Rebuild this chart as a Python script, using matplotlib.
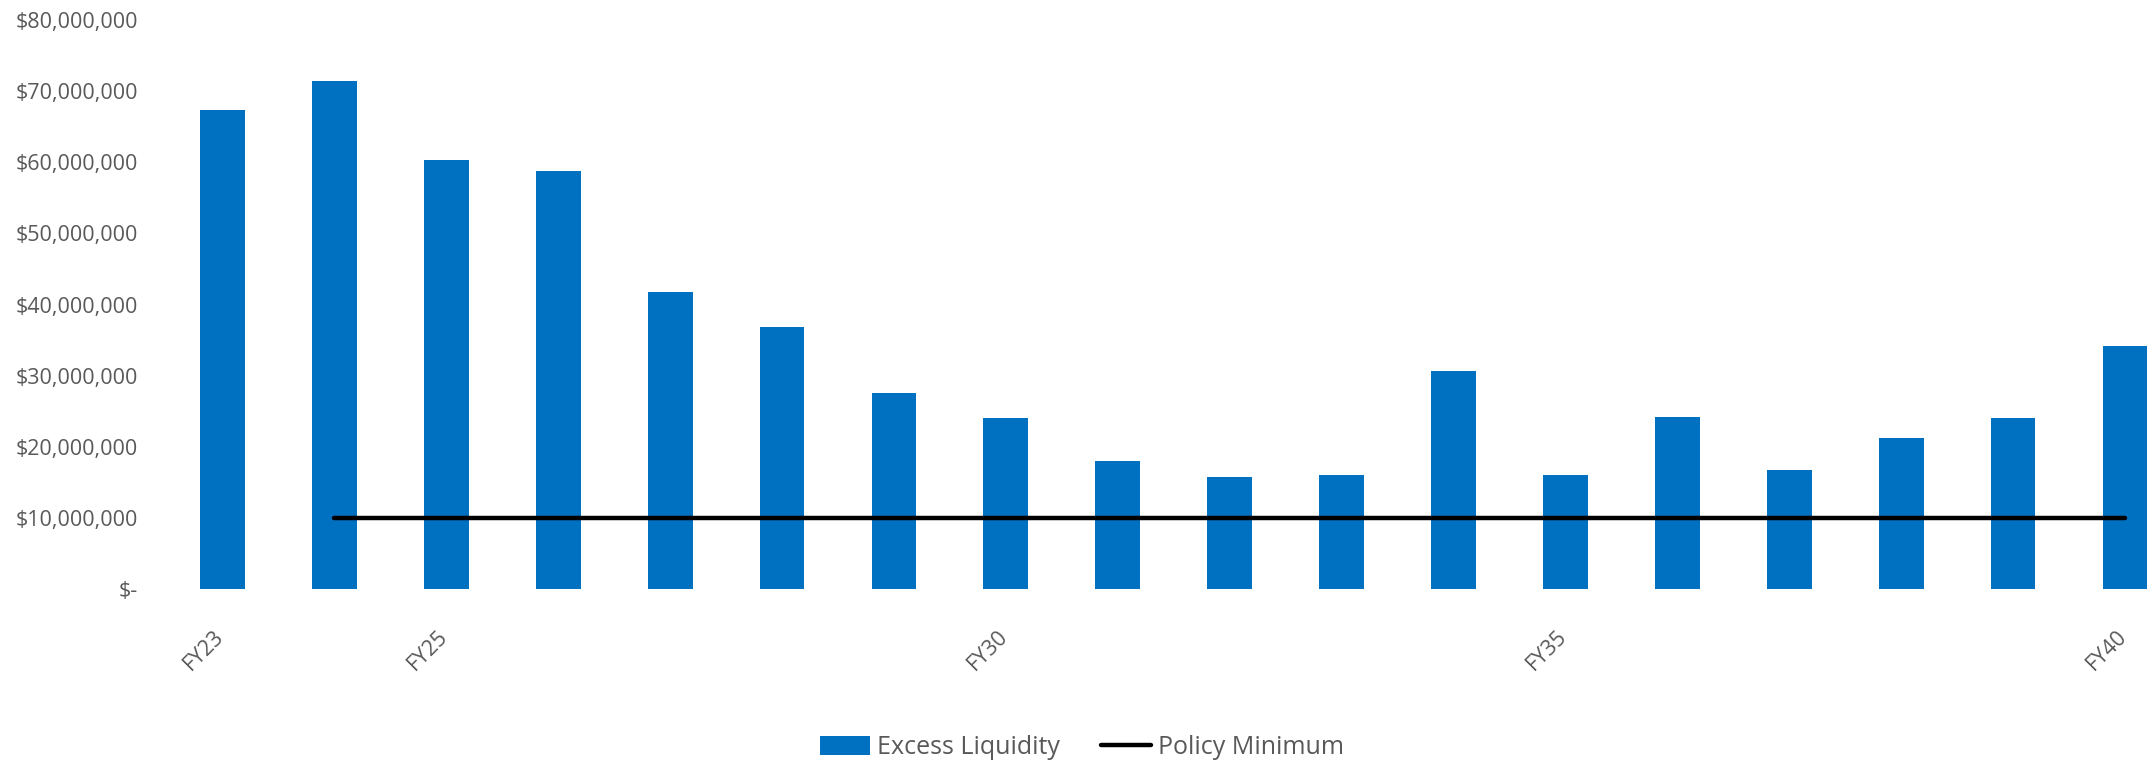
import numpy as np
import matplotlib
matplotlib.use('Agg')
import matplotlib.pyplot as plt
import matplotlib.transforms as mtransforms
from matplotlib.ticker import FuncFormatter

# Fiscal years and values
years = ['FY23', 'FY24', 'FY25', 'FY26', 'FY27', 'FY28', 'FY29', 'FY30', 'FY31',
         'FY32', 'FY33', 'FY34', 'FY35', 'FY36', 'FY37', 'FY38', 'FY39', 'FY40']
shown_labels = ['FY23', 'FY25', 'FY30', 'FY35', 'FY40']
excess_liquidity = [67.4, 71.4, 60.3, 58.7, 41.7, 36.9, 27.6, 24.0, 18.0,
                    15.7, 16.0, 30.7, 16.0, 24.2, 16.8, 21.3, 24.0, 34.2]
excess_liquidity = [v * 1e6 for v in excess_liquidity]
policy_minimum = [np.nan] + [10e6] * 17

plt.rcParams['font.family'] = ['Open Sans', 'DejaVu Sans']
text_grey = '#595959'
fs = 15.5

fig = plt.figure(figsize=(21.53, 7.65), dpi=100)
ax = fig.add_axes([166.5 / 2153, 1 - 589 / 765, 1 - 166.5 / 2153, (589 - 20) / 765])

x = np.arange(len(years))
bars = ax.bar(x, excess_liquidity, width=0.4, color='#0070C0', label='Excess Liquidity', zorder=2)
line, = ax.plot(x, policy_minimum, color='black', lw=3.2, solid_capstyle='round',
                label='Policy Minimum', zorder=3)

ax.set_xlim(-0.5, 17.25)
ax.set_ylim(0, 80e6)
ax.set_yticks(np.arange(0, 80e6 + 1, 10e6))
ax.yaxis.set_major_formatter(FuncFormatter(lambda v, p: '$-' if v == 0 else f'${v:,.0f}'))

ax.set_xticks(x)
ax.set_xticklabels([y if y in shown_labels else '' for y in years],
                   rotation=45, ha='right', va='top')

ax.tick_params(axis='both', length=0, labelsize=fs, labelcolor=text_grey)
ax.tick_params(axis='y', pad=20.5)
ax.tick_params(axis='x', pad=26.5)
# nudge the rotated labels a little to the right, like the original
shift = mtransforms.ScaledTranslation(6 / 100, 0, fig.dpi_scale_trans)
for lbl in ax.get_xticklabels():
    lbl.set_transform(lbl.get_transform() + shift)
for s in ax.spines.values():
    s.set_visible(False)

leg = fig.legend(handles=[bars, line], loc='center',
                 bbox_to_anchor=(1082 / 2153, 1 - 748 / 765), ncol=2,
                 frameon=False, fontsize=18, handlelength=2.0, handleheight=0.77,
                 handletextpad=0.28, columnspacing=1.64)
for t in leg.get_texts():
    t.set_color(text_grey)

fig.savefig('out.png', dpi=100)
